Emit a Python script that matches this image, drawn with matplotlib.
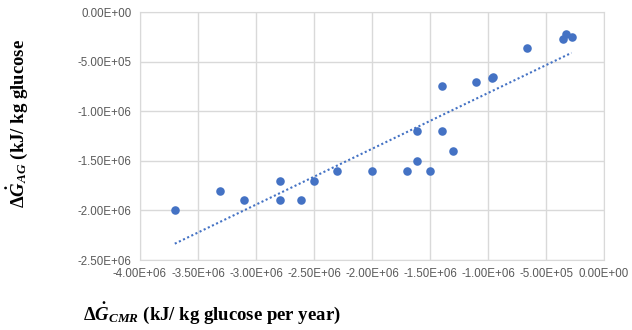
import numpy as np
import matplotlib
matplotlib.use("Agg")
import matplotlib.pyplot as plt
from matplotlib.ticker import FuncFormatter

# data
dg_cmr = [-3.70e6, -3.31e6, -3.10e6, -2.79e6, -2.79e6, -2.61e6, -2.50e6, -2.30e6,
          -2.00e6, -1.70e6, -1.50e6, -1.61e6, -1.61e6, -1.40e6, -1.30e6, -1.40e6,
          -1.10e6, -0.965e6, -0.955e6, -0.66e6, -0.35e6, -0.325e6, -0.28e6]
dg_ag = [-2.00e6, -1.80e6, -1.90e6, -1.70e6, -1.90e6, -1.90e6, -1.70e6, -1.60e6,
         -1.60e6, -1.60e6, -1.60e6, -1.50e6, -1.20e6, -1.20e6, -1.40e6, -0.75e6,
         -0.71e6, -0.67e6, -0.66e6, -0.36e6, -0.27e6, -0.22e6, -0.25e6]

x_ticks = np.arange(-4.0e6, 0.1e6, 5e5)
y_ticks = np.arange(-2.5e6, 0.1e6, 5e5)

plt.rcParams['mathtext.fontset'] = 'custom'
plt.rcParams['mathtext.rm'] = 'Liberation Serif:bold'
plt.rcParams['mathtext.it'] = 'Liberation Serif:italic:bold'
plt.rcParams['mathtext.bf'] = 'Liberation Serif:bold'

fig = plt.figure(figsize=(6.32, 3.30), dpi=100)
ax = fig.add_axes([0.2215, 0.2121, 0.7342, 0.7515])

blue = '#4472C4'
ax.scatter(dg_cmr, dg_ag, s=38, color=blue, zorder=3, linewidths=0)

# linear trendline over the data range
k, b = np.polyfit(dg_cmr, dg_ag, 1)
xs = np.array([min(dg_cmr), max(dg_cmr)])
ax.plot(xs, k * xs + b, linestyle=(0, (1, 1.2)), color=blue, linewidth=1.5, zorder=2)

ax.set_xlim(-4.0e6, 0)
ax.set_ylim(-2.5e6, 0)
ax.set_xticks(x_ticks)
ax.set_yticks(y_ticks)
fmt = FuncFormatter(lambda v, p: ("%.2E" % v).replace("-0.00", "0.00"))
ax.xaxis.set_major_formatter(fmt)
ax.yaxis.set_major_formatter(fmt)
ax.tick_params(length=0, labelsize=8.3, labelcolor='#595959', pad=6)
for lab in ax.get_xticklabels() + ax.get_yticklabels():
    lab.set_family('Liberation Sans')

ax.grid(True, color='#d9d9d9', linewidth=1)
ax.set_axisbelow(True)
for s in ax.spines.values():
    s.set_color('#d9d9d9')

fig.text(0.027, 0.627, r'$\mathit{\Delta}\dot{G}_{AG}$ (kJ/ kg glucose', rotation=90,
         ha='center', va='center', fontsize=13.5, family='Liberation Serif', weight='bold')
fig.text(0.131, 0.052, r'$\mathit{\Delta}\dot{G}_{CMR}$ (kJ/ kg glucose per year)',
         ha='left', va='center', fontsize=13.5, family='Liberation Serif', weight='bold')

fig.savefig('out.png', dpi=100)
